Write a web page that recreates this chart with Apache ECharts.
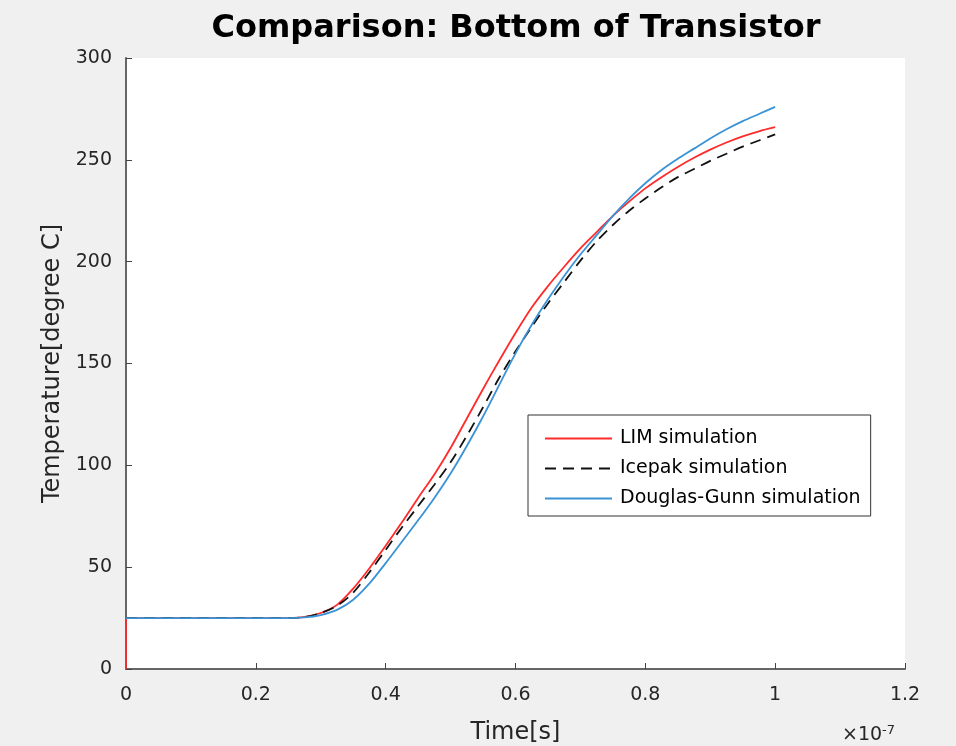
<!DOCTYPE html>
<html>
<head>
<meta charset="utf-8">
<script src="https://cdn.jsdelivr.net/npm/echarts@6/dist/echarts.min.js"></script>
<style>
  html, body { margin: 0; padding: 0; background: #f0f0f0; }
  #chart { width: 956px; height: 746px; }
</style>
</head>
<body>
<div id="chart"></div>
<script>
// time in units of 1e-7 s
const time = [0, 0.025, 0.05, 0.075, 0.1, 0.125, 0.15, 0.175, 0.2, 0.225, 0.25, 0.275,
  0.3, 0.325, 0.35, 0.375, 0.4, 0.425, 0.45, 0.475, 0.5, 0.525, 0.55, 0.575,
  0.6, 0.625, 0.65, 0.675, 0.7, 0.725, 0.75, 0.775, 0.8, 0.825, 0.85, 0.875,
  0.9, 0.925, 0.95, 0.975, 1.0];

// temperatures [degree C]
const lim = [25, 25, 25, 25, 25, 25, 25, 25, 25, 25, 25, 25.6,
  27.5, 31.5, 39.5, 49.5, 60.5, 72, 84, 95.5, 108.5, 123, 137.5, 151.5,
  165, 177.5, 188, 197.5, 206.5, 214.5, 222.5, 229.5, 236, 241.5, 246.5, 251,
  255, 258.5, 261.5, 264, 266];
const icepak = [25, 25, 25, 25, 25, 25, 25, 25, 25, 25, 25, 25.5,
  27.5, 31, 37.5, 47.5, 58.5, 69.5, 80, 90.5, 101.5, 114.5, 128.5, 143,
  156, 168, 179.5, 190, 200.5, 210, 218, 225, 231, 236.5, 241.5, 245.5,
  249.5, 253, 256.5, 259.5, 262.5];
const dg = [25, 25, 25, 25, 25, 25, 25, 25, 25, 25, 25, 25.3,
  26.5, 29, 34, 42, 52, 62.5, 73, 84, 96, 109.5, 124, 139.5,
  155, 169, 181.5, 193, 203.5, 213, 222.5, 231, 238.5, 245, 250.5, 255.5,
  260.5, 265, 269, 272.5, 276];

// LIM curve jumps from 0 to 25 at t = 0
const limStart = [[0, 0], [0, 25]];

const xTicks = [0, 0.2, 0.4, 0.6, 0.8, 1, 1.2];
const yTicks = [0, 50, 100, 150, 200, 250, 300];

function pairs(ys) {
  return time.map((t, i) => [t, ys[i]]);
}

let myChart = echarts.init(document.getElementById("chart"));

const font = "DejaVu Sans, Verdana, sans-serif";
const axisColor = "#262626";
const red = "#ff2a2a";
const blue = "#3a93d6";
const black = "#111";

let option = {
  backgroundColor: "#f0f0f0",
  animation: false,
  textStyle: { fontFamily: font },
  title: {
    text: "Comparison: Bottom of Transistor",
    left: 511,
    top: 8,
    textAlign: "center",
    textStyle: { fontSize: 32, fontWeight: "bold", color: "#000", fontFamily: font },
  },
  grid: {
    left: 126,
    right: 51,
    top: 58,
    bottom: 77,
    outerBoundsMode: "none",
    containLabel: false,
    show: true,
    backgroundColor: "#fff",
    borderWidth: 0,
  },
  legend: {
    orient: "vertical",
    left: 528,
    top: 415,
    backgroundColor: "#fff",
    borderColor: "#333",
    borderWidth: 1,
    padding: [14, 10, 8, 16],
    itemWidth: 67,
    itemHeight: 18,
    itemGap: 11,
    itemStyle: { opacity: 0 },
    textStyle: { fontSize: 19, color: "#000", fontFamily: font, padding: [0, 0, 0, 3] },
    data: ["LIM simulation", "Icepak simulation", "Douglas-Gunn simulation"],
  },
  xAxis: {
    type: "value",
    min: 0,
    max: 1.2,
    interval: 0.2,
    name: "Time[s]",
    nameLocation: "middle",
    nameGap: 52,
    nameTextStyle: { fontSize: 24, color: axisColor },
    axisLine: { lineStyle: { color: "#666", width: 2 } },
    axisTick: { inside: true, length: 6, lineStyle: { color: "#444" } },
    axisLabel: {
      fontSize: 19,
      color: axisColor,
      margin: 17,
      formatter: (v) => String(xTicks.find((t) => Math.abs(t - v) < 1e-6) ?? v),
    },
    splitLine: { show: false },
  },
  yAxis: {
    type: "value",
    min: 0,
    max: 300,
    interval: 50,
    name: "Temperature[degree C]",
    nameLocation: "middle",
    nameGap: 58,
    nameTextStyle: { fontSize: 24, color: axisColor },
    axisLine: { show: true, lineStyle: { color: "#666", width: 2 } },
    axisTick: { show: true, inside: true, length: 6, lineStyle: { color: "#444" } },
    axisLabel: {
      fontSize: 19,
      color: axisColor,
      margin: 14,
      formatter: (v) => String(yTicks.find((t) => t === v) ?? v),
    },
    splitLine: { show: false },
  },
  graphic: [
    {
      type: "text",
      left: 842,
      top: 724,
      style: {
        text: "×{a|10}{s|-7}",
        rich: {
          a: { fontSize: 19, fontFamily: font, fill: axisColor },
          s: { fontSize: 13, fontFamily: font, fill: axisColor, verticalAlign: "top", padding: [0, 0, 10, 0] },
        },
        fontSize: 19,
        fontFamily: font,
        fill: axisColor,
      },
    },
  ],
  series: [
    {
      name: "LIM simulation",
      type: "line",
      data: limStart,
      symbol: "none",
      lineStyle: { color: red, width: 1.8 },
      itemStyle: { color: red },
    },
    {
      name: "LIM simulation",
      type: "line",
      data: pairs(lim),
      symbol: "none",
      smooth: 0.3,
      lineStyle: { color: red, width: 1.8 },
      itemStyle: { color: red },
    },
    {
      name: "Icepak simulation",
      type: "line",
      data: pairs(icepak),
      symbol: "none",
      smooth: 0.3,
      lineStyle: { color: black, width: 1.8, type: [11, 7] },
      itemStyle: { color: black },
    },
    {
      name: "Douglas-Gunn simulation",
      type: "line",
      data: pairs(dg),
      symbol: "none",
      smooth: 0.3,
      lineStyle: { color: blue, width: 1.8 },
      itemStyle: { color: blue },
    },
  ],
};

myChart.setOption(option);
</script>
</body>
</html>
